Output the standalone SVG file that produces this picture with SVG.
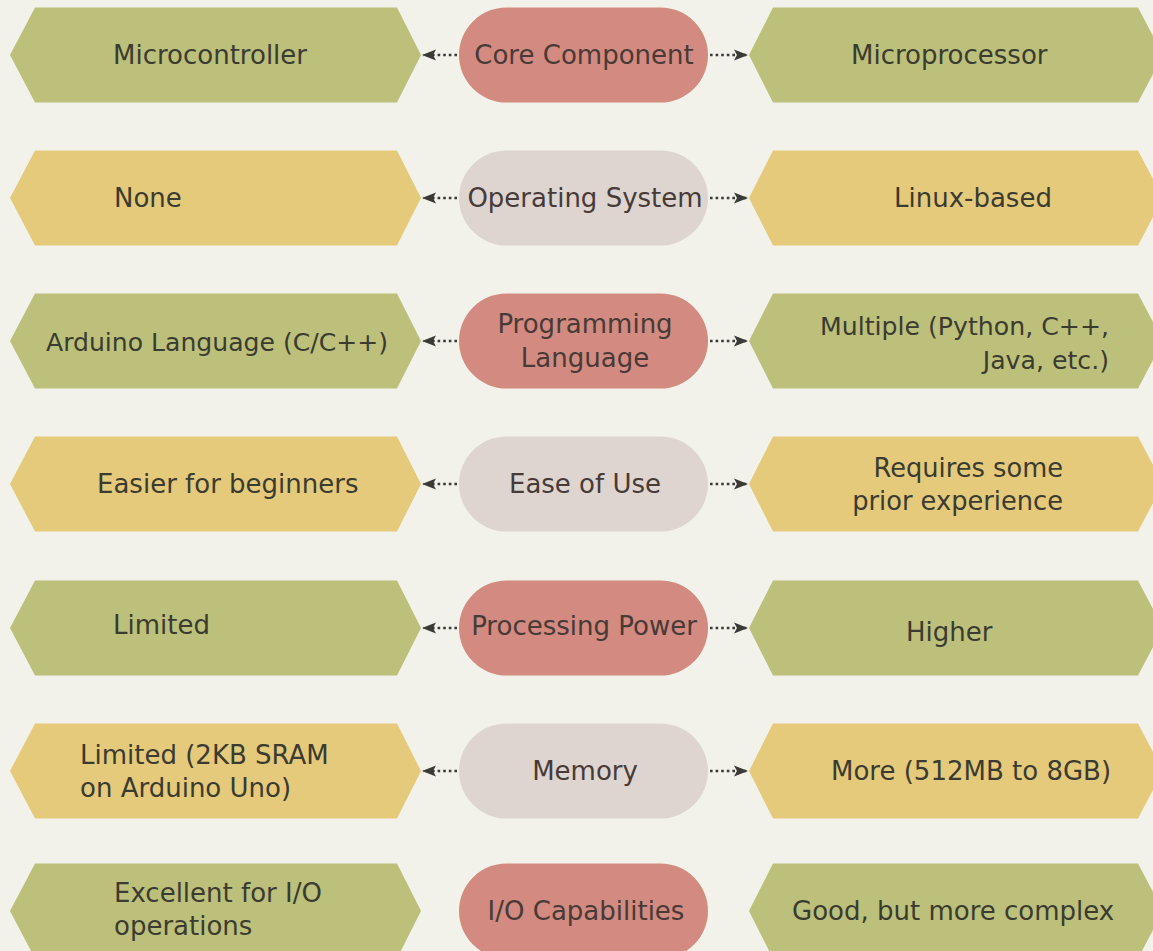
<svg xmlns="http://www.w3.org/2000/svg" width="1153" height="951" viewBox="0 0 1153 951">
<style>
.bg{fill:#f2f2eb}
.g{fill:#bcc07a}
.y{fill:#e4ca7a}
.r{fill:#d38a80}
.s{fill:#ded5d0}
text{font-family:"DejaVu Sans","Liberation Sans",sans-serif;font-size:26px;fill:#3b3b32}
.p{fill:#473a37}
.m{text-anchor:middle}
.e{text-anchor:end}
.c{stroke:#3a3a36;stroke-width:2.6;stroke-dasharray:2.6 3;fill:none;marker-end:url(#ah)}
</style>
<defs>
<marker id="ah" viewBox="0 0 14 12" refX="13" refY="6" markerWidth="14" markerHeight="12" markerUnits="userSpaceOnUse" orient="auto">
<path d="M0,0.5 L14,6 L0,11.5 L3,6 Z" fill="#3a3a36"/>
</marker>
<path id="hl" d="M10,0 L35,-47.5 L397,-47.5 L421,0 L397,47.5 L35,47.5 Z"/>
<path id="hr" d="M749,0 L773,-47.5 L1138,-47.5 L1163,0 L1138,47.5 L773,47.5 Z"/>
<rect id="pl" x="459" y="-47.5" width="249" height="95" rx="47.5" ry="47.5"/>
</defs>
<rect class="bg" x="0" y="0" width="1153" height="951"/>

<g id="connectors">
<line class="c" x1="457" y1="55" x2="423" y2="55"/>
<line class="c" x1="710" y1="55" x2="747" y2="55"/>
<line class="c" x1="457" y1="198" x2="423" y2="198"/>
<line class="c" x1="710" y1="198" x2="747" y2="198"/>
<line class="c" x1="457" y1="341" x2="423" y2="341"/>
<line class="c" x1="710" y1="341" x2="747" y2="341"/>
<line class="c" x1="457" y1="484" x2="423" y2="484"/>
<line class="c" x1="710" y1="484" x2="747" y2="484"/>
<line class="c" x1="457" y1="628" x2="423" y2="628"/>
<line class="c" x1="710" y1="628" x2="747" y2="628"/>
<line class="c" x1="457" y1="771" x2="423" y2="771"/>
<line class="c" x1="710" y1="771" x2="747" y2="771"/>
</g>

<g id="row1-left"><use href="#hl" class="g" y="55"/><text x="113" y="64">Microcontroller</text></g>
<g id="row1-center"><use href="#pl" class="r" y="55"/><text class="p m" x="584" y="64">Core Component</text></g>
<g id="row1-right"><use href="#hr" class="g" y="55"/><text x="851" y="64">Microprocessor</text></g>

<g id="row2-left"><use href="#hl" class="y" y="198"/><text x="114" y="207">None</text></g>
<g id="row2-center"><use href="#pl" class="s" y="198"/><text class="p m" x="585" y="207">Operating System</text></g>
<g id="row2-right"><use href="#hr" class="y" y="198"/><text x="894" y="207">Linux-based</text></g>

<g id="row3-left"><use href="#hl" class="g" y="341"/><text x="46" y="351" style="font-size:25.1px">Arduino Language (C/C++)</text></g>
<g id="row3-center"><use href="#pl" class="r" y="341"/><text class="p m" x="585" y="333">Programming</text><text class="p m" x="585" y="367">Language</text></g>
<g id="row3-right"><use href="#hr" class="g" y="341"/><text class="e" x="1109" y="335" style="font-size:25.2px">Multiple (Python, C++,</text><text class="e" x="1109" y="369" style="font-size:25.2px">Java, etc.)</text></g>

<g id="row4-left"><use href="#hl" class="y" y="484"/><text x="97" y="493">Easier for beginners</text></g>
<g id="row4-center"><use href="#pl" class="s" y="484"/><text class="p m" x="585" y="493">Ease of Use</text></g>
<g id="row4-right"><use href="#hr" class="y" y="484"/><text class="e" x="1063" y="477" style="font-size:25.7px">Requires some</text><text class="e" x="1063" y="510" style="font-size:25.7px">prior experience</text></g>

<g id="row5-left"><use href="#hl" class="g" y="628"/><text x="113" y="634">Limited</text></g>
<g id="row5-center"><use href="#pl" class="r" y="628"/><text class="p m" x="584" y="635">Processing Power</text></g>
<g id="row5-right"><use href="#hr" class="g" y="628"/><text x="906" y="641">Higher</text></g>

<g id="row6-left"><use href="#hl" class="y" y="771"/><text x="80" y="764">Limited (2KB SRAM</text><text x="80" y="797">on Arduino Uno)</text></g>
<g id="row6-center"><use href="#pl" class="s" y="771"/><text class="p m" x="585" y="780">Memory</text></g>
<g id="row6-right"><use href="#hr" class="y" y="771"/><text x="831" y="780">More (512MB to 8GB)</text></g>

<g id="row7-left"><use href="#hl" class="g" y="911"/><text x="114" y="902">Excellent for I/O</text><text x="114" y="935">operations</text></g>
<g id="row7-center"><use href="#pl" class="r" y="911"/><text class="p m" x="586" y="920">I/O Capabilities</text></g>
<g id="row7-right"><use href="#hr" class="g" y="911"/><text x="792" y="920">Good, but more complex</text></g>
</svg>
